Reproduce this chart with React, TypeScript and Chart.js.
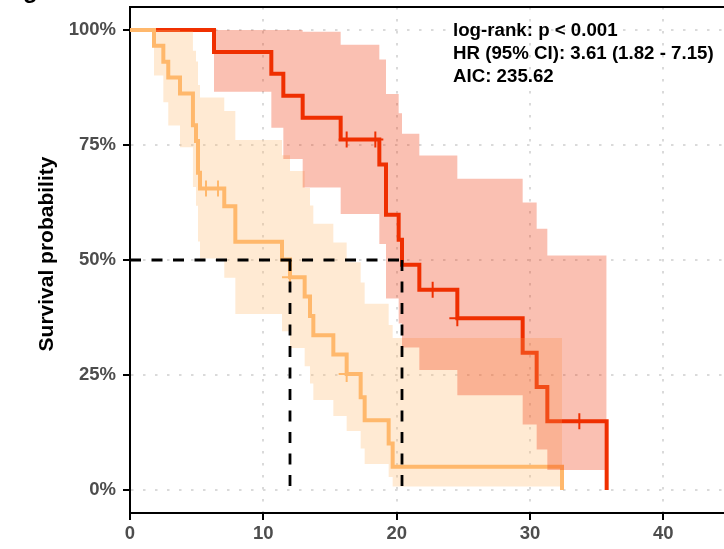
import React, { useEffect, useRef } from 'react';
import { Chart, registerables } from 'chart.js';

Chart.register(...registerables);

// ---- data ----
const xTicks = [0, 10, 20, 30, 40];
const yTicks = [0, 0.25, 0.5, 0.75, 1];

const orangeTimes = [0, 1.8, 2.5, 2.87, 3.75, 4.72, 4.95, 5.1, 5.25, 7.07, 7.9, 11.4, 12.0, 13.1, 13.5, 13.75, 15.25, 16.25, 17.3, 17.6, 19.4, 19.7, 32.4];
const orangeSurv = [1, 0.9655, 0.931, 0.8966, 0.8621, 0.7931, 0.7586, 0.6897, 0.6552, 0.6166, 0.5396, 0.501, 0.4625, 0.4204, 0.3784, 0.3363, 0.2943, 0.2523, 0.2018, 0.1514, 0.1009, 0.0505, 0];
const orangeUpper = [1, 1, 1, 1, 0.9972, 0.9551, 0.9315, 0.8804, 0.8532, 0.8237, 0.7609, 0.7276, 0.6933, 0.6566, 0.6186, 0.5788, 0.5378, 0.4953, 0.4511, 0.4048, 0.3585, 0.3304, 0.3304];
const orangeLower = [1, 0.9013, 0.8431, 0.7923, 0.7453, 0.6586, 0.6178, 0.5403, 0.5031, 0.4616, 0.3826, 0.345, 0.3085, 0.2692, 0.2315, 0.1954, 0.1611, 0.1285, 0.0903, 0.0566, 0.0284, 0.0077, 0.0077];
const orangeCensorTimes = [5.7, 6.6, 12.0, 16.25];
const orangeCensorSurv = [0.6552, 0.6552, 0.4625, 0.2523];

const redTimes = [0, 6.3, 10.6, 11.5, 12.95, 15.8, 18.7, 19.2, 20.15, 20.4, 21.7, 24.55, 29.45, 30.5, 31.3, 35.75];
const redSurv = [1, 0.9524, 0.9048, 0.8571, 0.8095, 0.7619, 0.7075, 0.5986, 0.5442, 0.4898, 0.4354, 0.3732, 0.2985, 0.2239, 0.1493, 0];
const redUpper = [1, 1, 1, 1, 0.9962, 0.9677, 0.936, 0.8608, 0.8189, 0.7742, 0.7271, 0.6769, 0.6252, 0.568, 0.5096, 0.5096];
const redLower = [1, 0.8655, 0.7875, 0.7198, 0.6578, 0.5999, 0.5348, 0.4162, 0.3617, 0.3099, 0.2607, 0.2058, 0.1425, 0.0883, 0.0437, 0.0437];
const redCensorTimes = [16.25, 18.4, 22.7, 24.55, 33.7];
const redCensorSurv = [0.7619, 0.7619, 0.4354, 0.3732, 0.1493];

const medianTimes = [12.0, 20.4];
const medianLevel = 0.5;

const annotationLines = ['log-rank: p < 0.001', 'HR (95% CI): 3.61 (1.82 - 7.15)', 'AIC: 235.62'];
const yTitle = 'Survival probability';
const panelTag = 'g';

// ---- styles ----
const ORANGE = '#FFB86C';
const ORANGE_FILL = 'rgba(255,184,108,0.3)';
const RED = '#F03000';
const RED_FILL = 'rgba(240,48,0,0.3)';
const FONT = '"Liberation Sans", Arial, Helvetica, sans-serif';

const zip = (xs: number[], ys: number[]) => xs.map((x, i) => ({ x, y: ys[i] }));

const decor = {
  id: 'decor',
  afterDraw(chart: any) {
    const { ctx, chartArea } = chart;
    ctx.save();
    ctx.strokeStyle = '#000';
    ctx.lineWidth = 2;
    ctx.beginPath();
    ctx.moveTo(chartArea.left - 1, chartArea.top);
    ctx.lineTo(chartArea.right, chartArea.top);
    ctx.stroke();
    ctx.fillStyle = '#000';
    ctx.textAlign = 'left';
    ctx.textBaseline = 'alphabetic';
    ctx.font = `bold 18.7px ${FONT}`;
    annotationLines.forEach((t, i) => ctx.fillText(t, 453, 36 + i * 23));
    ctx.font = `bold 24px ${FONT}`;
    ctx.fillText(panelTag, 23, -2);
    // y axis title
    ctx.save();
    ctx.translate(53.3, 254);
    ctx.rotate(-Math.PI / 2);
    ctx.textAlign = 'center';
    ctx.textBaseline = 'alphabetic';
    ctx.font = `bold 21px ${FONT}`;
    ctx.fillText(yTitle, 0, 0);
    ctx.restore();
    ctx.restore();
  },
};

const zeroPad = (s: any) => {
  s.paddingTop = 0;
  s.paddingBottom = 0;
  s.paddingLeft = 0;
  s.paddingRight = 0;
};

export default function App() {
  const ref = useRef<HTMLCanvasElement>(null);
  useEffect(() => {
    const lineCommon = {
      pointRadius: 0,
      stepped: true,
      borderWidth: 4,
      borderCapStyle: 'butt',
      borderJoinStyle: 'miter',
      fill: false,
    };
    const bandCommon = {
      pointRadius: 0,
      stepped: true,
      borderWidth: 0,
      borderColor: 'rgba(0,0,0,0)',
    };
    const censorCommon = {
      showLine: false,
      pointStyle: 'cross',
      pointRadius: 8,
      pointBorderWidth: 2,
      borderWidth: 2,
    };
    const dashCommon = {
      pointRadius: 0,
      borderColor: '#000',
      borderWidth: 2.8,
      borderDash: [11, 10.5],
      fill: false,
      order: 1,
    };
    const chart = new Chart(ref.current as HTMLCanvasElement, {
      type: 'line',
      data: {
        datasets: [
          { ...lineCommon, data: zip(redTimes, redSurv), borderColor: RED, order: 9 },
          { ...censorCommon, data: zip(redCensorTimes, redCensorSurv), borderColor: RED, pointBorderColor: RED, order: 8 },
          { ...lineCommon, data: zip(orangeTimes, orangeSurv), borderColor: ORANGE, order: 7 },
          { ...censorCommon, data: zip(orangeCensorTimes, orangeCensorSurv), borderColor: ORANGE, pointBorderColor: ORANGE, order: 6 },
          { ...bandCommon, data: zip(orangeTimes, orangeUpper), fill: false, order: 5 },
          { ...bandCommon, data: zip(orangeTimes, orangeLower), fill: '-1', backgroundColor: ORANGE_FILL, order: 4 },
          { ...bandCommon, data: zip(redTimes, redUpper), fill: false, order: 3 },
          { ...bandCommon, data: zip(redTimes, redLower), fill: '-1', backgroundColor: RED_FILL, order: 2 },
          { ...dashCommon, data: [{ x: 0, y: medianLevel }, { x: medianTimes[1], y: medianLevel }] },
          { ...dashCommon, data: [{ x: medianTimes[0], y: medianLevel }, { x: medianTimes[0], y: 0 }] },
          { ...dashCommon, data: [{ x: medianTimes[1], y: medianLevel }, { x: medianTimes[1], y: 0 }] },
        ] as any,
      },
      options: {
        responsive: false,
        devicePixelRatio: 1,
        animation: false,
        layout: { autoPadding: false, padding: { top: 7, left: 0, right: 0, bottom: 0 } },
        plugins: { legend: { display: false }, tooltip: { enabled: false } },
        scales: {
          x: {
            type: 'linear',
            min: 0,
            max: 44.55,
            afterBuildTicks: (s: any) => { s.ticks = xTicks.map((v) => ({ value: v })); },
            afterFit: (s: any) => { s.height = 36; zeroPad(s); },
            ticks: {
              color: '#4D4D4D',
              font: { family: FONT, size: 18.5, weight: 'bold' },
              padding: 3,
              maxRotation: 0,
              callback: (v: any) => String(v),
            },
            grid: { color: '#DADADA', lineWidth: 2, tickColor: '#000', tickWidth: 2, tickLength: 7, drawOnChartArea: true },
            border: { display: true, color: '#000', width: 2, dash: [2.5, 9.5] },
          },
          y: {
            type: 'linear',
            min: -0.05,
            max: 1.05,
            afterBuildTicks: (s: any) => { s.ticks = yTicks.map((v) => ({ value: v })); },
            afterFit: (s: any) => { s.width = 130; zeroPad(s); },
            ticks: {
              color: '#4D4D4D',
              font: { family: FONT, size: 18.5, weight: 'bold' },
              padding: 7,
              callback: (v: any) => Math.round(Number(v) * 100) + '%',
            },
            grid: { color: '#DADADA', lineWidth: 2, tickColor: '#000', tickWidth: 2, tickLength: 7 },
            border: { display: true, color: '#000', width: 2, dash: [2.5, 9.5] },
          },
        },
      } as any,
      plugins: [decor],
    });
    return () => chart.destroy();
  }, []);
  return (
    <div style={{ position: 'absolute', left: 0, top: 0, width: 724, height: 549, overflow: 'hidden', background: '#fff' }}>
      <canvas ref={ref} width={724} height={549} style={{ display: 'block', width: 724, height: 549 }} />
    </div>
  );
}
